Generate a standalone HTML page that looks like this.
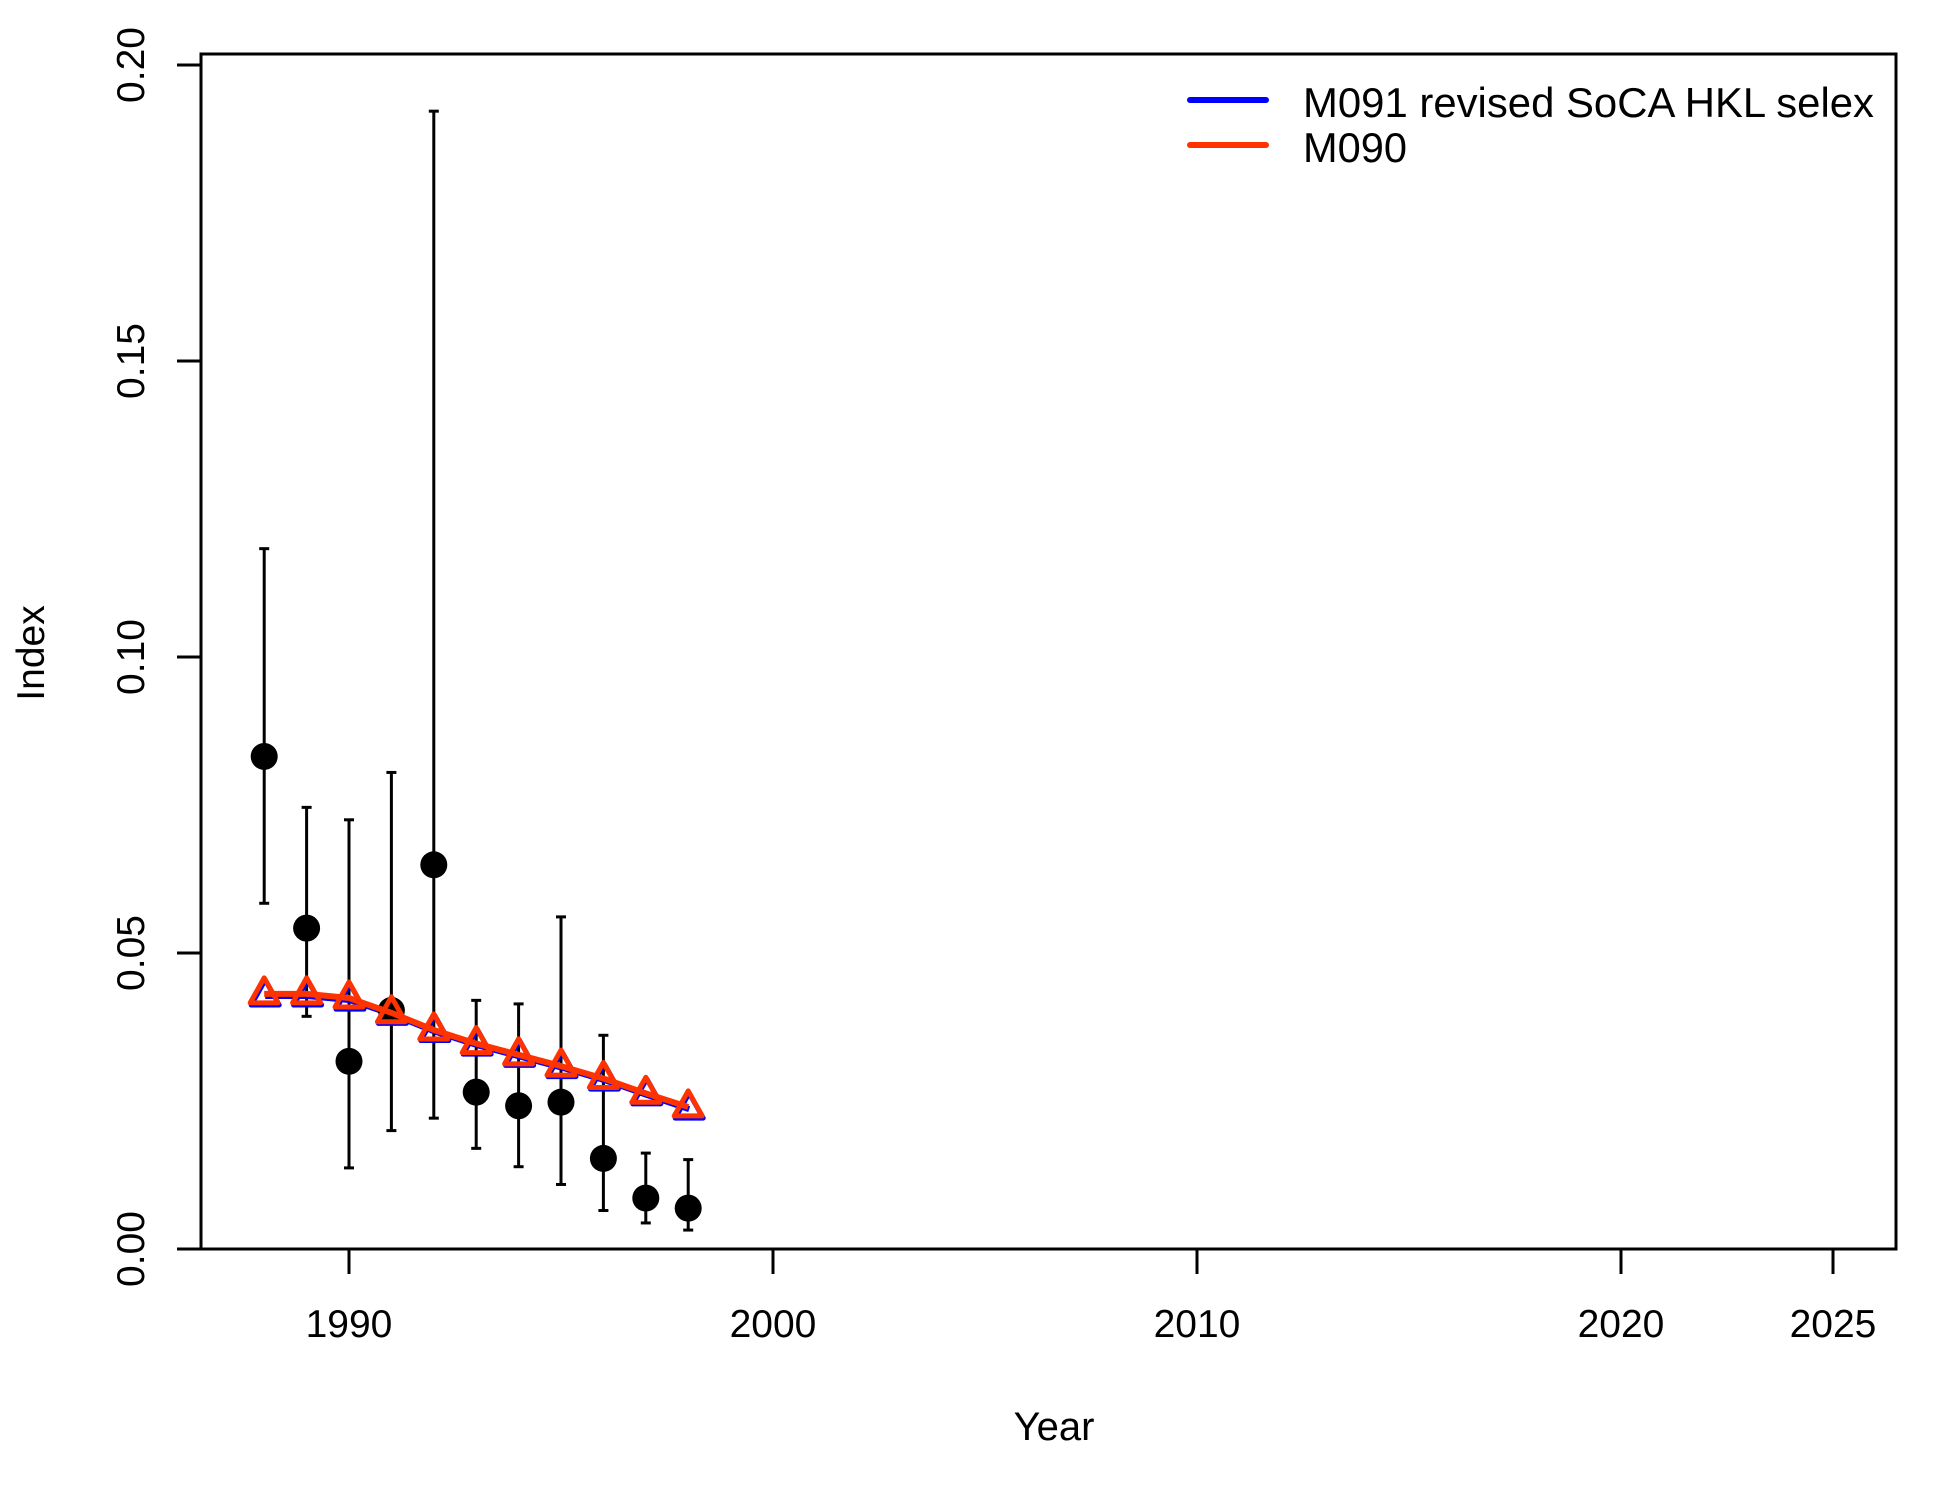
<!DOCTYPE html>
<html><head><meta charset="utf-8"><style>
html,body{margin:0;padding:0;background:#fff}
svg{display:block}
text{font-family:"Liberation Sans",Arial,sans-serif;fill:#000}
</style></head><body>
<svg id="chart" width="1950" height="1500" viewBox="0 0 1950 1500" xmlns="http://www.w3.org/2000/svg">
<rect x="201" y="54" width="1695" height="1195" fill="none" stroke="#000" stroke-width="3"/>
<g id="axes"></g>
<g id="marks"></g>
<text x="1054" y="1440" font-size="40" text-anchor="middle">Year</text>
<text transform="translate(44,653) rotate(-90)" font-size="39" text-anchor="middle">Index</text>
<g>
<line x1="1190" y1="100" x2="1266" y2="100" stroke="#0000ff" stroke-width="6" stroke-linecap="round"/>
<text x="1303" y="117" font-size="42" textLength="571" lengthAdjust="spacingAndGlyphs">M091 revised SoCA HKL selex</text>
<line x1="1190" y1="145" x2="1266" y2="145" stroke="#ff3300" stroke-width="6" stroke-linecap="round"/>
<text x="1303" y="162" font-size="42" textLength="104" lengthAdjust="spacingAndGlyphs">M090</text>
</g>
</svg>
<script>
const years=[1988,1989,1990,1991,1992,1993,1994,1995,1996,1997,1998];
const obs=[0.0832,0.0542,0.0317,0.0403,0.0649,0.0265,0.0242,0.0248,0.0153,0.0086,0.0069];
const upper=[0.1183,0.0746,0.0725,0.0805,0.1922,0.0420,0.0414,0.0561,0.0361,0.0162,0.0151];
const lower=[0.0584,0.0393,0.0137,0.0200,0.0221,0.0170,0.0139,0.0109,0.0065,0.0044,0.0032];
const fitM091=[0.0429,0.0429,0.0422,0.0398,0.0369,0.0346,0.0327,0.0308,0.0287,0.0262,0.0238];
const fitM090=[0.0431,0.0431,0.0424,0.0399,0.0370,0.0347,0.0328,0.0309,0.0288,0.0263,0.0240];
const xTicks=[1990,2000,2010,2020,2025];
const yTicks=[0,0.05,0.10,0.15,0.20];
const yTickLabels=["0.00","0.05","0.10","0.15","0.20"];

const NS="http://www.w3.org/2000/svg";
const X=v=>349+(v-1990)*42.4;
const Y=v=>1249-v*5920;
function mk(tag,attrs,parent){const e=document.createElementNS(NS,tag);for(const k in attrs)e.setAttribute(k,attrs[k]);parent.appendChild(e);return e;}
const axes=document.getElementById('axes'),marks=document.getElementById('marks');

xTicks.forEach(t=>{
  const l=mk('line',{x1:X(t),y1:1249,x2:X(t),y2:1274,stroke:'#000','stroke-width':3},axes);
  
  
  const tx=mk('text',{x:X(t),y:1337,'font-size':39,'text-anchor':'middle'},axes);
  tx.textContent=t;
  
  
});
const yl=mk('line',{x1:201,y1:Y(0),x2:201,y2:Y(0.2),stroke:'#000','stroke-width':3},axes);


yTicks.forEach((t,i)=>{
  const l=mk('line',{x1:177,y1:Y(t),x2:201,y2:Y(t),stroke:'#000','stroke-width':3},axes);
  
  
  const tx=mk('text',{transform:`translate(144,${Y(t)}) rotate(-90)`,'font-size':39,'text-anchor':'middle'},axes);
  tx.textContent=yTickLabels[i];
  
  
});

years.forEach((yr,i)=>{
  const x=X(yr);
  const g=mk('g',{},marks);
  
  
  mk('line',{x1:x,y1:Y(lower[i]),x2:x,y2:Y(upper[i]),stroke:'#000','stroke-width':3},g);
  mk('line',{x1:x-5,y1:Y(lower[i]),x2:x+5,y2:Y(lower[i]),stroke:'#000','stroke-width':3},g);
  mk('line',{x1:x-5,y1:Y(upper[i]),x2:x+5,y2:Y(upper[i]),stroke:'#000','stroke-width':3},g);
});

function series(vals,color,name,off){
  const pts=years.map((yr,i)=>`${X(yr)+off},${Y(vals[i])+off}`).join(' ');
  const pl=mk('polyline',{points:pts,fill:'none',stroke:color,'stroke-width':6,'stroke-linejoin':'round'},marks);
  
  
  years.forEach((yr,i)=>{
    const x=X(yr)+off,y=Y(vals[i])+off;
    const t=mk('polygon',{points:`${x},${y-16} ${x-14},${y+9} ${x+14},${y+9}`,fill:'none',stroke:color,'stroke-width':5,'stroke-linejoin':'round'},marks);
    
    
  });
}
series(fitM091,'#0000ff','m091',1);

years.forEach((yr,i)=>{
  const c=mk('circle',{cx:X(yr),cy:Y(obs[i]),r:13.5,fill:'#000'},marks);
  
  
});
series(fitM090,'#ff3300','m090',0);
</script>
</body></html>
